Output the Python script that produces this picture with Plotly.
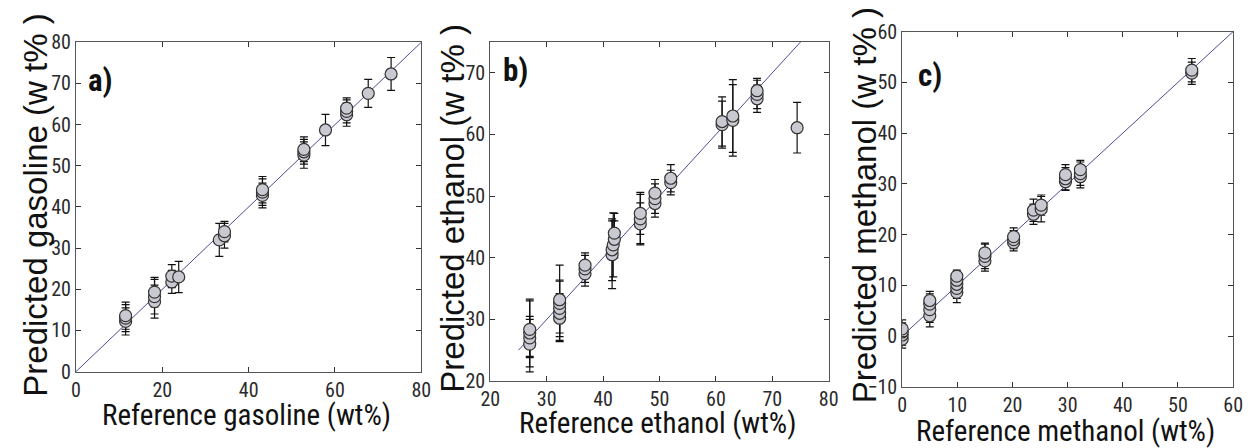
import plotly.graph_objects as go

# ---------------- data ----------------
ref_a = [11.5, 11.5, 11.5, 18.2, 18.2, 18.2, 22.2, 22.2, 23.8, 33.2, 34.4, 34.4,
         43.2, 43.2, 43.2, 52.8, 52.8, 52.8, 57.8, 62.7, 62.7, 62.7, 67.7, 73.0]
pred_a = [12.2, 13.0, 13.6, 17.0, 18.2, 19.3, 21.8, 23.2, 23.0, 32.0, 33.0, 34.0,
          42.8, 43.6, 44.2, 52.6, 53.4, 54.0, 58.7, 62.4, 63.2, 64.0, 67.6, 72.3]
err_a = [3.3, 3.3, 3.3, 4.0, 4.2, 3.6, 2.8, 2.8, 3.8, 4.0, 3.0, 2.5,
         3.0, 3.2, 3.2, 3.2, 3.0, 3.0, 3.8, 2.8, 2.8, 2.5, 3.4, 4.0]

ref_b = [27.0, 27.0, 27.0, 27.0, 32.3, 32.3, 32.3, 32.3, 32.3, 36.8, 36.8, 36.8,
         41.6, 41.6, 41.8, 42.0, 42.0, 46.6, 46.6, 46.6, 49.2, 49.2, 49.2, 52.0, 52.0,
         61.1, 61.1, 63.0, 63.0, 67.3, 67.3, 67.3, 74.4]
pred_b = [26.0, 27.0, 27.8, 28.4, 30.2, 31.0, 31.8, 32.6, 33.2, 37.4, 38.2, 38.8,
          40.5, 41.3, 42.1, 43.0, 44.0, 45.5, 46.3, 47.2, 48.8, 49.6, 50.5, 52.2, 52.9,
          61.6, 62.1, 62.3, 63.0, 65.8, 66.5, 67.1, 61.1]
err_b = [4.5, 3.0, 5.5, 4.6, 3.6, 3.2, 4.6, 6.2, 3.0, 2.0, 2.2, 2.0,
         5.5, 5.0, 5.2, 3.0, 3.2, 3.4, 4.0, 3.4, 2.2, 2.4, 2.2, 2.0, 2.2,
         3.8, 4.0, 5.8, 5.9, 2.2, 2.3, 2.0, 4.1]

ref_c = [0.0, 0.0, 0.0, 0.0, 5.0, 5.0, 5.0, 5.0, 9.9, 9.9, 9.9, 9.9, 9.9,
         15.0, 15.0, 15.0, 20.2, 20.2, 20.2, 23.8, 23.8, 25.2, 25.2,
         29.6, 29.6, 29.6, 32.3, 32.3, 32.3, 52.5, 52.5]
pred_c = [-0.6, 0.2, 0.8, 1.4, 4.0, 5.2, 6.3, 7.0, 8.6, 9.4, 10.2, 11.0, 11.8,
          14.8, 15.7, 16.4, 18.4, 19.0, 19.6, 24.0, 24.8, 25.0, 25.8,
          30.4, 31.0, 31.8, 31.4, 32.0, 32.8, 51.8, 52.4]
err_c = [1.8, 2.0, 1.8, 1.8, 2.2, 2.5, 2.0, 1.8, 2.0, 2.0, 2.0, 1.6, 1.2,
         2.0, 2.4, 1.9, 1.6, 1.8, 1.7, 2.0, 2.2, 2.5, 2.0,
         1.7, 2.2, 2.0, 2.2, 2.3, 1.8, 2.2, 2.3]

diag_a = [0, 80]
diag_b = [25, 75]
diag_c = [0, 60]

x_ticks_a = [0, 20, 40, 60, 80]
y_ticks_a = [0, 10, 20, 30, 40, 50, 60, 70, 80]
x_ticks_b = [20, 30, 40, 50, 60, 70, 80]
y_ticks_b = [20, 30, 40, 50, 60, 70]
x_ticks_c = [0, 10, 20, 30, 40, 50, 60]
y_ticks_c = [-10, 0, 10, 20, 30, 40, 50, 60]

panels = [
    dict(ref=ref_a, pred=pred_a, err=err_a, diag=diag_a, xr=[0, 80], yr=[0, 80],
         xt=x_ticks_a, yt=y_ticks_a, xd=[0.0535, 0.3336], yd=[0.1518, 0.9286],
         label="a)", lab_pos=(77, 72), xtitle="Reference gasoline (wt%)",
         xt_pos=(240, 426), ytitle="Predicted gasoline (w t% )", yt_x=25, yt_y=204),
    dict(ref=ref_b, pred=pred_b, err=err_b, diag=diag_b, xr=[20, 80], yr=[20, 75],
         xt=x_ticks_b, yt=y_ticks_b, xd=[0.3895, 0.6640], yd=[0.1295, 0.9292],
         label="b)", lab_pos=(499, 62), xtitle="Reference ethanol (wt%)",
         xt_pos=(658, 434), ytitle="Predicted ethanol (w t% )", yt_x=450, yt_y=207),
    dict(ref=ref_c, pred=pred_c, err=err_c, diag=diag_c, xr=[0, 60], yr=[-10, 60],
         xt=x_ticks_c, yt=y_ticks_c, xd=[0.7236, 0.9920], yd=[0.1161, 0.9538],
         label="c)", lab_pos=(921, 67), xtitle="Reference methanol (wt%)",
         xt_pos=(1073, 443), ytitle="Predicted methanol (w t% )", yt_x=868, yt_y=204),
]

W, H = 1253, 448
NARROW = "Liberation Sans Narrow, Arial Narrow, Roboto Condensed, sans-serif"
REG = "Liberation Sans, Arial, sans-serif"

fig = go.Figure()
layout = dict(
    width=W, height=H, margin=dict(l=0, r=0, t=0, b=0),
    paper_bgcolor="white", plot_bgcolor="white", showlegend=False,
    annotations=[],
)

for i, p in enumerate(panels):
    n = "" if i == 0 else str(i + 1)
    xa, ya = "x" + n, "y" + n
    fig.add_trace(go.Scatter(
        x=p["diag"], y=p["diag"], mode="lines", xaxis=xa, yaxis=ya,
        line=dict(color="#4c4c96", width=1)))
    fig.add_trace(go.Scatter(
        x=p["ref"], y=p["pred"], mode="markers", xaxis=xa, yaxis=ya,
        error_y=dict(type="data", array=p["err"], color="#111111",
                     thickness=1.2, width=4),
        marker=dict(symbol="circle", size=12, color="#c9c9d1",
                    line=dict(color="#333333", width=1.2))))
    axis_common = dict(
        showgrid=False, zeroline=False, showline=True, linecolor="#555555",
        linewidth=1, mirror="ticks", ticks="inside", ticklen=5,
        tickcolor="#333333",
        tickfont=dict(family=NARROW, size=20, color="#2a2a2a"))
    layout["xaxis" + n] = dict(axis_common, range=p["xr"], tickvals=p["xt"],
                               domain=p["xd"], anchor=ya)
    layout["yaxis" + n] = dict(axis_common, range=p["yr"], tickvals=p["yt"],
                               domain=p["yd"], anchor=xa)
    lx, ly = p["lab_pos"]
    layout["annotations"].append(dict(
        text="<b>" + p["label"] + "</b>", xref="paper", yref="paper",
        x=lx / W, y=1 - ly / H, xanchor="left", yanchor="middle", showarrow=False,
        font=dict(family=NARROW, size=31, color="#111111")))
    tx, ty = p["xt_pos"]
    layout["annotations"].append(dict(
        text=p["xtitle"], xref="paper", yref="paper",
        x=tx / W, y=1 - ty / H, xanchor="center", yanchor="middle",
        showarrow=False, font=dict(family=NARROW, size=29, color="#111111")))
    layout["annotations"].append(dict(
        text=p["ytitle"], xref="paper", yref="paper",
        x=p["yt_x"] / W, y=1 - p["yt_y"] / H, xanchor="center", yanchor="middle",
        textangle=-90, showarrow=False,
        font=dict(family=REG, size=33, color="#111111")))

fig.update_layout(**layout)
fig.write_html("out.html")
